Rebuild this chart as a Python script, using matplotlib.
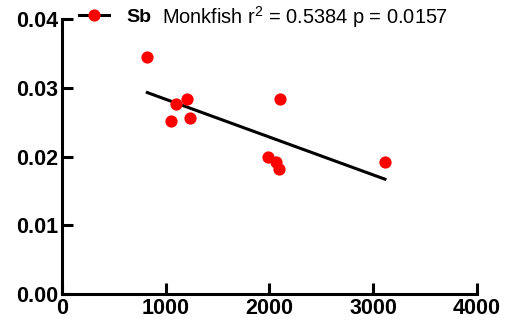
import numpy as np
import matplotlib.pyplot as plt
from matplotlib.lines import Line2D

plt.rcParams['font.family'] = 'Liberation Sans'
plt.rcParams['mathtext.fontset'] = 'custom'
plt.rcParams['mathtext.rm'] = 'Liberation Sans'

# Sb concentration vs. length, monkfish
length = [816, 1099, 1202, 1051, 1237, 2101, 1986, 2063, 2089, 3113]
sb = [0.0345, 0.0277, 0.0283, 0.0252, 0.0256, 0.0284, 0.0200, 0.0192, 0.0182, 0.0192]
fit_x = [822, 3113]
fit_y = [0.0293, 0.0167]
x_ticks = [0, 1000, 2000, 3000, 4000]
y_ticks = [0.00, 0.01, 0.02, 0.03, 0.04]

fig = plt.figure(figsize=(5.07, 3.27), dpi=100)
ax = fig.add_axes([0.1223, 0.1009, 0.8185, 0.841])

ax.plot(fit_x, fit_y, color='black', lw=2.2, zorder=2)
ax.plot(length, sb, 'o', color='#ff0000', ms=8.8, mec='none', zorder=3)

ax.set_xlim(0, 4000)
ax.set_ylim(0, 0.04)
ax.set_xticks(x_ticks)
ax.set_yticks(y_ticks)
ax.set_xticklabels([str(t) for t in x_ticks])
ax.set_yticklabels(['%.2f' % t for t in y_ticks])
for s in ['top', 'right']:
    ax.spines[s].set_visible(False)
for s in ['left', 'bottom']:
    ax.spines[s].set_linewidth(2.2)
ax.tick_params(direction='in', length=8, width=2.2, labelsize=15.5, pad=3)
for lab in ax.get_xticklabels() + ax.get_yticklabels():
    lab.set_fontweight('bold')

handle = Line2D([], [], color='black', lw=2.2, marker='o', mfc='#ff0000',
                mec='none', ms=8.8)
leg = fig.legend([handle], ['Sb'], loc='center left', bbox_to_anchor=(0.156, 0.948),
                 frameon=False, handlelength=1.55, handletextpad=0.9,
                 borderpad=0, borderaxespad=0,
                 prop={'weight': 'bold', 'size': 14})
fig.text(0.320, 0.948, 'Monkfish r$^2$ = 0.5384 p = 0.0157', fontsize=14.4,
         va='center', ha='left')

fig.savefig('out.png', dpi=100)
